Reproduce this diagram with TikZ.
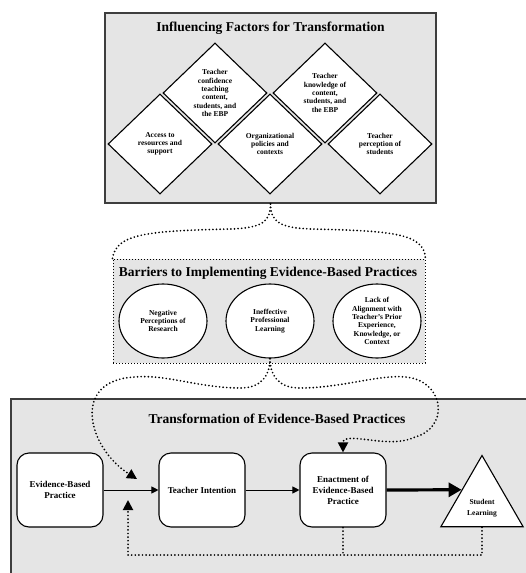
\documentclass[tikz,border=0pt]{standalone}
\usepackage{fontspec}
\setmainfont{Liberation Serif}
\usetikzlibrary{shapes.geometric,arrows.meta}

\definecolor{panelgray}{RGB}{229,229,229}
\definecolor{framegray}{RGB}{62,62,62}

\tikzset{every picture/.style={line width=0.9pt},
  panel/.style={rectangle, draw=framegray, line width=1.6pt, fill=panelgray, inner sep=0pt},
  barrierpanel/.style={rectangle, draw, dotted, line width=1pt, fill=panelgray, inner sep=0pt},
  paneltitle/.style={anchor=base, font=\fontsize{13.5}{16}\selectfont\bfseries},
  factor/.style={diamond, draw, fill=white, line width=1.1pt, minimum width=104pt, minimum height=100pt,
    inner sep=0pt, align=center, font=\fontsize{7.5}{8.3}\selectfont\bfseries},
  barrier/.style={ellipse, draw, fill=white, line width=1.1pt, minimum width=88pt, minimum height=74pt,
    inner sep=0pt, align=center, font=\fontsize{7.5}{8.3}\selectfont\bfseries},
  stage/.style={rectangle, rounded corners=12pt, draw, fill=white, line width=1.1pt, minimum width=86pt,
    minimum height=74pt, align=center, font=\fontsize{9}{11}\selectfont\bfseries},
  outcome/.style={regular polygon, regular polygon sides=3, draw, fill=white, line width=1.1pt,
    minimum size=95pt, inner sep=0pt},
  flow/.style={-{Triangle[length=7pt,width=7pt]}, line width=1pt},
  bigflow/.style={-{Triangle[length=13pt,width=14pt]}, line width=3.2pt},
  influence/.style={line width=1.9pt, line cap=round, dash pattern=on 0pt off 3.6pt},
  influencetip/.style={influence, -{Triangle[length=10pt,width=10pt]}}
}

\begin{document}
\begin{tikzpicture}[x=1pt,y=-1pt]
    \useasboundingbox (0,0) rectangle (525,573);
    \node[panel, minimum width=331pt, minimum height=190pt] (factors) at (270.5,108) {};
    \node[paneltitle] (factorstitle) at (270.5,31.5) {Influencing Factors for Transformation};
    \node[factor] (confidence) at (215,93) {Teacher\\confidence\\teaching\\content,\\students, and\\the EBP};
    \node[factor] (knowledge) at (325,93) {Teacher\\knowledge of\\content,\\students, and\\the EBP};
    \node[factor] (access) at (160,144) {Access to\\resources and\\support};
    \node[factor] (policies) at (270,144) {Organizational\\policies and\\contexts};
    \node[factor] (perception) at (380,144) {Teacher\\perception of\\students};

    \node[barrierpanel, minimum width=312pt, minimum height=104pt] (barriers) at (269,311) {};
    \node[paneltitle] (barrierstitle) at (268,276) {Barriers to Implementing Evidence-Based Practices};
    \node[barrier] (negative) at (163,321) {Negative\\Perceptions of\\Research};
    \node[barrier] (ineffective) at (270,321) {Ineffective\\Professional\\Learning};
    \node[barrier] (alignment) at (377,321) {Lack of\\Alignment with\\Teacher's Prior\\Experience,\\Knowledge, or\\Context};

    \node[panel, minimum width=530pt, minimum height=190pt] (transformation) at (276,494) {};
    \node[paneltitle] (transformationtitle) at (277,423) {Transformation of Evidence-Based Practices};
    \node[stage] (ebp) at (60,490) {Evidence-Based\\Practice};
    \node[stage] (intention) at (202,490) {Teacher Intention};
    \node[stage] (enactment) at (343,490) {Enactment of\\Evidence-Based\\Practice};
    \node[outcome, label={[yshift=-5pt, align=center, font=\fontsize{7.5}{10.5}\selectfont\bfseries]center:Student\\Learning}] (learning) at (482,503) {};

    \draw[flow] (ebp.east) -- (intention.west);
    \draw[flow] (intention.east) -- (enactment.west);
    \draw[bigflow] (enactment.east) -- (learning.147);

    \coordinate (hightip) at (137,479);
    \coordinate (lowtip) at (128,500);
    \coordinate (loop) at (128,555);

    \draw[influence] (factors.south) .. controls (270.5,222) and (262,228) .. (230,229)
        .. controls (150,231) and (116,233) .. (barriers.north west);
    \draw[influence] (factors.south) .. controls (270.5,222) and (280,228) .. (312,229)
        .. controls (392,231) and (424,233) .. (barriers.north east);
    \draw[influencetip] (ineffective.south) .. controls (270,375) and (262,388) .. (240,388)
        .. controls (200,388) and (165,374) .. (135,377) .. controls (70,380) and (88,448) .. (hightip);
    \draw[influencetip] (ineffective.south) .. controls (270,375) and (278,388) .. (300,388)
        .. controls (345,388) and (385,372) .. (412,378) .. controls (445,386) and (448,428) .. (415,437)
        .. controls (390,450) and (343,430) .. (enactment.north);
    \draw[influencetip] (learning.south) |- (loop) -- (lowtip);
    \draw[influence] (enactment.south) -- (enactment.south |- loop);
\end{tikzpicture}
\end{document}
